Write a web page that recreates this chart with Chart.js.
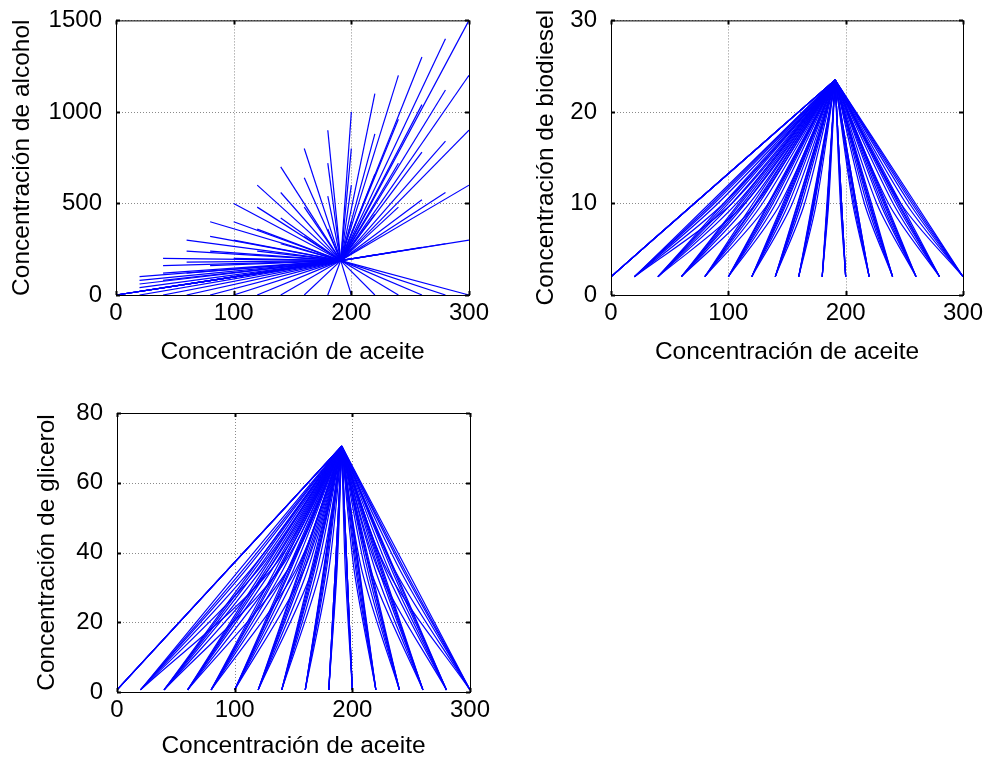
<!DOCTYPE html>
<html>
<head>
<meta charset="utf-8">
<script src="https://cdn.jsdelivr.net/npm/chart.js"></script>
<style>
  body { margin: 0; background: #fff; width: 992px; height: 770px; overflow: hidden; }
  canvas { position: absolute; left: 0; top: 0; }
</style>
</head>
<body>
<canvas id="alcohol" width="992" height="770"></canvas>
<canvas id="biodiesel" width="992" height="770"></canvas>
<canvas id="glicerol" width="992" height="770"></canvas>
<script>
// condiciones iniciales
const aceiteInicial = [0, 20, 40, 60, 80, 100, 120, 140, 160, 180, 200, 220, 240, 260, 280, 300];
// alcohol inicial, una fila por cada aceite inicial
const alcoholInicial = [
  [0, 0, 0, 0, 0, 0],
  [0, 20, 40, 60, 80, 100],
  [0, 40, 80, 120, 160, 200],
  [0, 60, 120, 180, 240, 300],
  [0, 80, 160, 240, 320, 400],
  [0, 100, 200, 300, 400, 500],
  [0, 120, 240, 360, 480, 600],
  [0, 140, 280, 420, 560, 700],
  [0, 160, 320, 480, 640, 800],
  [0, 180, 360, 540, 720, 900],
  [0, 200, 400, 600, 800, 1000],
  [0, 220, 440, 660, 880, 1100],
  [0, 240, 480, 720, 960, 1200],
  [0, 260, 520, 780, 1040, 1300],
  [0, 280, 560, 840, 1120, 1400],
  [0, 300, 600, 900, 1200, 1500]
];

// estado estacionario
const aceiteFinal = 191;
const alcoholFinal = 188;
const biodieselFinal = 23.5;
const glicerolFinal = 70.5;

const biodieselInicial = 2;
const glicerolInicial = 0.6;

// aceite donde cada trayectoria cruza biodiesel = 10
const biodieselMedio = 10;
const aceiteCruceBiodiesel = [
  [71, 71, 71, 71, 71, 71],
  [103, 96, 91, 88, 86, 84],
  [114, 107, 103, 100, 98, 96],
  [124, 118, 114.5, 112.5, 110.5, 109],
  [134, 129, 126, 124, 123, 121],
  [144.5, 140.5, 138, 136.5, 135, 134],
  [154.5, 151.5, 149.5, 148.5, 147.5, 146.5],
  [165, 162.5, 161, 160.5, 159.5, 159],
  [175, 173.5, 173, 172.5, 172, 171.5],
  [185.5, 185, 184.5, 184.5, 184.5, 184],
  [195.5, 196, 196.5, 196.5, 196.5, 196.5],
  [206, 207, 208, 208.5, 209, 209],
  [216, 218, 219.5, 220.5, 221, 222],
  [226.5, 229.5, 231, 232.5, 233.5, 234.5],
  [236.5, 240.5, 243, 244.5, 245.5, 247],
  [247, 251.5, 254.5, 256.5, 258, 259.5]
];

// aceite donde cada trayectoria cruza glicerol = 35
const glicerolMedio = 35;
const aceiteCruceGlicerol = [
  [94, 94, 94, 94, 94, 94],
  [131, 120, 113.5, 109.5, 107, 104],
  [138, 128.5, 122.5, 119, 116.5, 114.5],
  [145, 137, 131.5, 128.5, 126.5, 124.5],
  [152, 145, 141, 138, 136.5, 134.5],
  [159, 153.5, 150, 147.5, 146.5, 145],
  [166, 162, 159, 157.5, 156, 155],
  [173, 170, 168, 167, 166, 165],
  [180, 178, 177, 176, 176, 175.5],
  [187, 186.5, 186, 185.5, 185.5, 185.5],
  [194, 195, 195.5, 195.5, 195.5, 195.5],
  [201.5, 203, 204, 205, 205.5, 206],
  [208, 211, 213, 214.5, 215, 216],
  [215.5, 219.5, 222.5, 224, 225, 226],
  [222, 228, 231, 233.5, 235, 236],
  [229.5, 236, 240.5, 243, 244.5, 246.5]
];

const ticksAceite = [0, 100, 200, 300];
const ticksAlcohol = [0, 500, 1000, 1500];
const ticksBiodiesel = [0, 10, 20, 30];
const ticksGlicerol = [0, 20, 40, 60, 80];

const fuenteTicks = { family: '"Liberation Sans", Arial, sans-serif', size: 24 };
const fuenteTitulo = { family: '"Liberation Sans", Arial, sans-serif', size: 24.5 };

// rejilla punteada, marco y marcas hacia dentro como en matlab
const marco = {
  id: 'marco',
  beforeDatasetsDraw(chart) {
    const { ctx, chartArea: a, scales: { x, y } } = chart;
    ctx.save();
    ctx.strokeStyle = '#8a8a8a';
    ctx.lineWidth = 1;
    ctx.setLineDash([1, 2]);
    ctx.beginPath();
    x.ticks.forEach(t => {
      const px = Math.round(x.getPixelForValue(t.value)) + 0.5;
      ctx.moveTo(px, a.top); ctx.lineTo(px, a.bottom);
    });
    y.ticks.forEach(t => {
      const py = Math.round(y.getPixelForValue(t.value)) + 0.5;
      ctx.moveTo(a.left, py); ctx.lineTo(a.right, py);
    });
    ctx.stroke();
    ctx.restore();
  },
  afterDraw(chart) {
    const { ctx, chartArea: a, scales: { x, y } } = chart;
    ctx.save();
    ctx.strokeStyle = '#000';
    ctx.lineWidth = 1;
    ctx.strokeRect(a.left + 0.5, a.top + 0.5, a.right - a.left, a.bottom - a.top);
    ctx.lineWidth = 2;
    ctx.beginPath();
    x.ticks.forEach(t => {
      const px = Math.round(x.getPixelForValue(t.value)) + 0.5;
      ctx.moveTo(px, a.bottom); ctx.lineTo(px, a.bottom - 4);
      ctx.moveTo(px, a.top); ctx.lineTo(px, a.top + 4);
    });
    y.ticks.forEach(t => {
      const py = Math.round(y.getPixelForValue(t.value)) + 0.5;
      ctx.moveTo(a.left, py); ctx.lineTo(a.left + 4, py);
      ctx.moveTo(a.right, py); ctx.lineTo(a.right - 4, py);
    });
    ctx.stroke();
    ctx.restore();
  }
};

function dibujar(id, datasets, yMax, yTicks, yTitulo, caja) {
  new Chart(document.getElementById(id), {
    type: 'scatter',
    data: { datasets: datasets },
    options: {
      responsive: false,
      animation: false,
      devicePixelRatio: 1,
      layout: { padding: { left: caja.left - caja.w, right: 992 - caja.right, top: caja.top, bottom: 770 - caja.bottom - caja.h } },
      plugins: { legend: { display: false }, tooltip: { enabled: false } },
      scales: {
        x: {
          min: 0, max: 300,
          afterBuildTicks: s => { s.ticks = ticksAceite.map(v => ({ value: v })); },
          afterFit: s => { s.height = caja.h; },
          grid: { display: false },
          border: { display: false },
          ticks: { color: '#000', font: fuenteTicks, padding: -4, maxRotation: 0, callback: v => String(v) },
          title: { display: true, text: 'Concentración de aceite', color: '#000', font: fuenteTitulo, padding: 0 }
        },
        y: {
          min: 0, max: yMax,
          afterBuildTicks: s => { s.ticks = yTicks.map(v => ({ value: v })); },
          afterFit: s => { s.width = caja.w; },
          grid: { display: false },
          border: { display: false },
          ticks: { color: '#000', font: fuenteTicks, padding: 6, callback: v => String(v) },
          title: { display: true, text: yTitulo, color: '#000', font: fuenteTitulo, padding: 0 }
        }
      },
      elements: { point: { radius: 0 } }
    },
    plugins: [marco]
  });
}

function linea(puntos, tension) {
  return { data: puntos, showLine: true, borderColor: '#0000ff', borderWidth: 1.2, pointRadius: 0, tension: tension };
}

const trayAlcohol = [], trayBiodiesel = [], trayGlicerol = [];
aceiteInicial.forEach((a0, i) => {
  alcoholInicial[i].forEach((al0, j) => {
    trayAlcohol.push(linea([{ x: a0, y: al0 }, { x: aceiteFinal, y: alcoholFinal }], 0));
    trayBiodiesel.push(linea([
      { x: a0, y: biodieselInicial },
      { x: aceiteCruceBiodiesel[i][j], y: biodieselMedio },
      { x: aceiteFinal, y: biodieselFinal }
    ], 0.3));
    trayGlicerol.push(linea([
      { x: a0, y: glicerolInicial },
      { x: aceiteCruceGlicerol[i][j], y: glicerolMedio },
      { x: aceiteFinal, y: glicerolFinal }
    ], 0.3));
  });
});

dibujar('alcohol', trayAlcohol, 1500, ticksAlcohol, 'Concentración de alcohol',
  { left: 116, right: 469, top: 15, bottom: 295, w: 108, h: 72 });
dibujar('biodiesel', trayBiodiesel, 30, ticksBiodiesel, 'Concentración de biodiesel',
  { left: 611, right: 963, top: 15, bottom: 295, w: 79, h: 72 });
dibujar('glicerol', trayGlicerol, 80, ticksGlicerol, 'Concentración de glicerol',
  { left: 117, right: 470, top: 413, bottom: 692, w: 84, h: 69 });
</script>
</body>
</html>
